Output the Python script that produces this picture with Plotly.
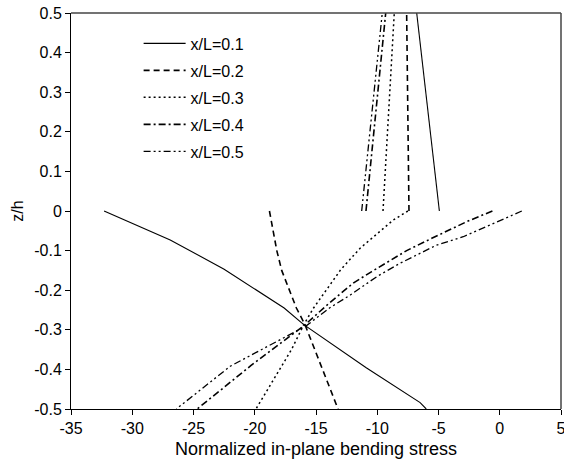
import plotly.graph_objects as go

# Series data: bottom segment (z from 0 to -0.5) and top segment (z from 0 to 0.5)
labels = ["x/L=0.1", "x/L=0.2", "x/L=0.3", "x/L=0.4", "x/L=0.5"]

s01_bot_x = [-32.3, -26.9, -22.5, -17.6, -16.0, -10.9, -6.5, -6.0]
s01_bot_z = [0.0, -0.073, -0.147, -0.245, -0.287, -0.396, -0.484, -0.5]
s01_top_x = [-4.93, -6.78]
s01_top_z = [0.0, 0.5]

s02_bot_x = [-18.8, -18.2, -17.8, -16.6, -15.9, -13.2]
s02_bot_z = [0.0, -0.1, -0.15, -0.245, -0.287, -0.5]
s02_top_x = [-7.41, -7.6]
s02_top_z = [0.0, 0.5]

s03_bot_x = [-7.5, -8.7, -11.4, -13.0, -15.2, -16.0, -17.0, -19.9]
s03_bot_z = [0.0, -0.023, -0.094, -0.149, -0.245, -0.287, -0.35, -0.5]
s03_top_x = [-9.53, -8.61]
s03_top_z = [0.0, 0.5]

s04_bot_x = [-0.6, -2.7, -5.55, -7.6, -10.45, -11.96, -13.9, -16.0, -20.3, -24.7]
s04_bot_z = [0.0, -0.027, -0.069, -0.10, -0.153, -0.182, -0.232, -0.29, -0.39, -0.5]
s04_top_x = [-10.92, -9.31]
s04_top_z = [0.0, 0.5]

s05_bot_x = [1.8, -0.53, -2.98, -5.15, -8.14, -10.0, -12.2, -13.9, -15.8, -22.0, -26.4]
s05_bot_z = [0.0, -0.031, -0.065, -0.086, -0.132, -0.165, -0.212, -0.245, -0.29, -0.392, -0.5]
s05_top_x = [-11.27, -9.59]
s05_top_z = [0.0, 0.5]

x_ticks = [-35, -30, -25, -20, -15, -10, -5, 0, 5]
z_ticks = [0.5, 0.4, 0.3, 0.2, 0.1, 0, -0.1, -0.2, -0.3, -0.4, -0.5]

series = [
    (s01_bot_x, s01_bot_z, s01_top_x, s01_top_z),
    (s02_bot_x, s02_bot_z, s02_top_x, s02_top_z),
    (s03_bot_x, s03_bot_z, s03_top_x, s03_top_z),
    (s04_bot_x, s04_bot_z, s04_top_x, s04_top_z),
    (s05_bot_x, s05_bot_z, s05_top_x, s05_top_z),
]
dashes = ["solid", "6px,4px", "2px,3px", "7px,3px,2px,3px", "7px,3px,2px,3px,2px,3px"]
widths = [1.1, 1.6, 1.5, 1.6, 1.3]

FONT = "Liberation Sans, Arial, sans-serif"

fig = go.Figure()
for i, (bx, bz, tx, tz) in enumerate(series):
    fig.add_trace(go.Scatter(
        x=list(bx) + [None] + list(tx),
        y=list(bz) + [None] + list(tz),
        mode="lines",
        name=labels[i],
        legendgroup=labels[i],
        connectgaps=False,
        line=dict(color="black", width=widths[i], dash=dashes[i]),
    ))

axis_common = dict(
    showgrid=False, zeroline=False,
    showline=True, linecolor="black", linewidth=1,
    ticks="outside", ticklen=5, tickwidth=1, tickcolor="black",
    mirror=False, automargin=False, ticklabeloverflow="allow",
    tickfont=dict(family=FONT, size=16, color="black"),
)

fig.update_layout(
    width=564, height=466,
    margin=dict(l=71, r=3, t=13, b=57),
    paper_bgcolor="white", plot_bgcolor="white",
    font=dict(family=FONT, color="black"),
    xaxis=dict(range=[-35, 5], tickvals=x_ticks, ticktext=[str(v) for v in x_ticks],
               title=dict(text="Normalized in-plane bending stress",
                          font=dict(family=FONT, size=18, color="black"), standoff=6),
               **axis_common),
    yaxis=dict(range=[-0.5, 0.5], tickvals=z_ticks,
               ticktext=[("%g" % v) for v in z_ticks],
               title=dict(text="z/h", font=dict(family=FONT, size=16, color="black"), standoff=6),
               **axis_common),
    legend=dict(x=0.138, y=0.966, xanchor="left", yanchor="top",
                bgcolor="rgba(0,0,0,0)", borderwidth=0,
                font=dict(family=FONT, size=16, color="black"),
                itemwidth=42,
                tracegroupgap=3.2),
    showlegend=True,
)

# top and right frame lines
fig.add_shape(type="line", xref="paper", yref="paper", x0=0, x1=1, y0=1, y1=1,
              line=dict(color="#444", width=1.5))
fig.add_shape(type="line", xref="paper", yref="paper", x0=1, x1=1, y0=0, y1=1,
              line=dict(color="#444", width=1.5))

fig.write_html("out.html", config={"displayModeBar": False},
               post_script="document.body.style.margin='0';document.body.style.padding='0';")
